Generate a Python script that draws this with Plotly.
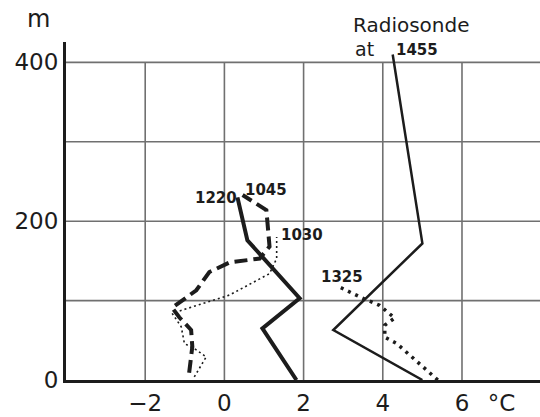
import plotly.graph_objects as go

# Temperature profiles (°C) vs height (m)
t1220 = [1.82, 0.96, 1.90, 0.58, 0.33]
h1220 = [0, 65, 103, 176, 230]

t1045 = [-0.89, -0.81, -0.84, -1.14, -1.32, -0.71, -0.38, 0.13, 0.89, 1.14, 1.06, 0.46]
h1045 = [9, 42, 63, 79, 91, 113, 136, 148, 153, 168, 214, 233]

t1030 = [-0.76, -0.46, -0.71, -1.01, -1.09, -1.32, 0.13, 1.14, 1.32, 1.32]
h1030 = [4, 29, 38, 46, 67, 84, 107, 134, 153, 180]

t1325 = [5.39, 4.35, 4.05, 4.05, 4.30, 3.92, 3.49, 2.91]
h1325 = [0, 46, 54, 69, 78, 94, 103, 117]

t_sonde = [5.0, 2.75, 5.0, 4.25]
h_sonde = [0, 63, 172, 410]

x_tickvals = [-2, 0, 2, 4, 6, 7]
x_ticktext = ["\u22122", "0", "2", "4", "6", "°C"]
y_tickvals = [0, 200, 400]
x_grid = [-2, 0, 2, 4, 6]
y_grid = [100, 200, 300, 400]

INK = "#1c1c1c"
GRID = "#707070"
FONT = "DejaVu Sans"

fig = go.Figure()
fig.add_trace(go.Scatter(x=t_sonde, y=h_sonde, mode="lines",
                         line=dict(color=INK, width=2.5)))
fig.add_trace(go.Scatter(x=t1325, y=h1325, mode="lines",
                         line=dict(color=INK, width=3.5, dash="3px,5px")))
fig.add_trace(go.Scatter(x=t1030, y=h1030, mode="lines",
                         line=dict(color=INK, width=1.6, dash="2px,3px")))
fig.add_trace(go.Scatter(x=t1045, y=h1045, mode="lines",
                         line=dict(color=INK, width=4, dash="13px,6px")))
fig.add_trace(go.Scatter(x=t1220, y=h1220, mode="lines",
                         line=dict(color=INK, width=4)))

for gx in x_grid:
    fig.add_shape(type="line", x0=gx, x1=gx, y0=0, y1=400, xref="x", yref="y",
                  line=dict(color=GRID, width=1.6), layer="below")

lab = dict(family=FONT, size=15, color=INK)
fig.add_annotation(x=-0.2, y=229, text="<b>1220</b>", showarrow=False, font=lab)
fig.add_annotation(x=1.06, y=239, text="<b>1045</b>", showarrow=False, font=lab)
fig.add_annotation(x=1.95, y=182, text="<b>1030</b>", showarrow=False, font=lab)
fig.add_annotation(x=2.96, y=130, text="<b>1325</b>", showarrow=False, font=lab)

fig.add_annotation(x=4.73, y=1.05, yref="paper", yanchor="middle", xanchor="center",
                   text="Radiosonde", showarrow=False,
                   font=dict(family=FONT, size=20, color=INK))
fig.add_annotation(x=3.53, y=0.978, yref="paper", yanchor="middle", xanchor="center",
                   text="at", showarrow=False,
                   font=dict(family=FONT, size=19, color=INK))
fig.add_annotation(x=4.87, y=0.976, yref="paper", yanchor="middle", xanchor="center",
                   text="<b>1455</b>", showarrow=False, font=lab)
fig.add_annotation(x=-0.057, y=1.068, xref="paper", yref="paper", yanchor="middle",
                   xanchor="center", text="m", showarrow=False,
                   font=dict(family=FONT, size=24, color=INK))

fig.update_layout(
    width=540, height=417,
    margin=dict(l=66, r=0, t=42, b=37),
    paper_bgcolor="white", plot_bgcolor="white",
    showlegend=False,
    font=dict(family=FONT, size=22, color=INK),
    xaxis=dict(range=[-4, 7.97], tickvals=x_tickvals, ticktext=x_ticktext,
               showgrid=False, zeroline=False, showline=True, linecolor=INK,
               linewidth=3, ticks="", tickfont=dict(size=23, color=INK)),
    yaxis=dict(range=[0, 425.7], tickvals=y_tickvals, showgrid=False,
               zeroline=False, showline=True, linecolor=INK, linewidth=3,
               ticks="", tickfont=dict(size=23, color=INK)),
)
for gy in y_grid:
    fig.add_shape(type="line", x0=-4, x1=7.97, y0=gy, y1=gy, xref="x", yref="y",
                  line=dict(color=GRID, width=1.6), layer="below")

fig.write_html("out.html")
